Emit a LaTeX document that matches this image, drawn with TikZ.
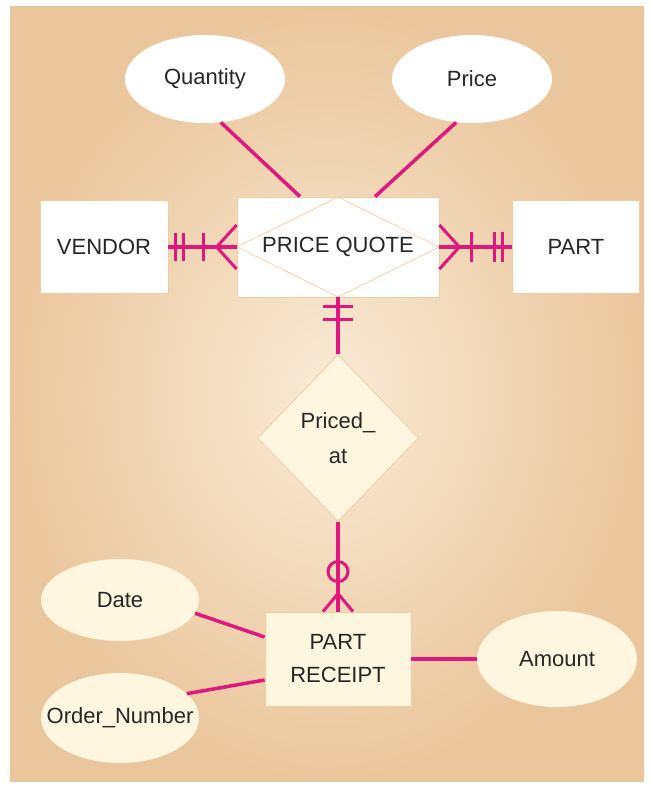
\documentclass[tikz,border=0pt]{standalone}
\usepackage{fontspec}
\setmainfont{Liberation Sans}
\usepackage{tikz}
\usetikzlibrary{positioning, shapes.geometric}
\definecolor{erpink}{HTML}{E0177F}
\definecolor{bginner}{HTML}{FAEBD6}
\definecolor{bgouter}{HTML}{EAC69C}
\definecolor{boxedge}{HTML}{F0CDA0}
\definecolor{cream}{HTML}{FFF6E0}
\definecolor{textgray}{HTML}{262626}

\begin{document}
\begin{tikzpicture}[x=1pt, y=-1pt,
    font=\fontsize{22}{26}\selectfont, text=textgray,
    entity/.style={draw=boxedge, line width=0.8pt, fill=white, inner sep=0pt},
    attr/.style={ellipse, fill=cream, inner sep=0pt, minimum width=160pt, minimum height=88pt},
    rel/.style={draw=erpink, line width=3.5pt},
    tick/.style={draw=erpink, line width=3pt}]
    \useasboundingbox (0,0) rectangle (650,789);
    \fill[inner color=bginner, outer color=bgouter] (10,7) rectangle (644,781);

    % entities
    \node[entity, minimum width=128pt, minimum height=93pt] (vendor) at (104,247) {VENDOR};
    \node[entity, minimum width=202pt, minimum height=100pt,
          path picture={\draw[boxedge, line width=0.7pt]
            (path picture bounding box.west) -- (path picture bounding box.north)
            -- (path picture bounding box.east) -- (path picture bounding box.south) -- cycle;}]
          (quote) at (338,247) {PRICE QUOTE};
    \node[entity, minimum width=127pt, minimum height=93pt] (part) at (576,247) {PART};
    \node[entity, fill=cream, minimum width=146pt, minimum height=94pt, align=center]
          (receipt) at (338,659) {PART\\[7pt]RECEIPT};
    \node[diamond, draw=boxedge, line width=0.8pt, fill=cream, inner sep=0pt,
          minimum width=161pt, minimum height=167pt, align=center]
          (priced) at (338,438) {Priced\_\\[9pt]at};

    % attributes
    \node[attr, fill=white] (qty) at (205,79) {Quantity};
    \node[attr, fill=white] (price) at (472,79) {Price};
    \node[attr, minimum width=158pt, minimum height=82pt] (date) at (120,600) {Date};
    \node[attr, minimum width=158pt, minimum height=90pt] (ordno) at (120,718)
          {\makebox[0pt]{Order\_Number}};
    \node[attr, minimum height=96pt] (amount) at (557,659) {Amount};

    % attribute links
    \draw[rel] (qty.-70) -- ([xshift=-38pt]quote.north);
    \draw[rel] (price.-110) -- ([xshift=37pt]quote.north);
    \draw[rel] (date.-10) -- ([yshift=22pt]receipt.west);
    \draw[rel] (ordno.20) -- ([yshift=-21pt]receipt.west);
    \draw[rel] (receipt) -- (amount);

    % vendor -- price quote
    \draw[rel] (vendor.east) -- (quote.west);
    \draw[tick] ([xshift=7pt]vendor.east) ++(0,-14) -- ++(0,28)
                ([xshift=15pt]vendor.east) ++(0,-14) -- ++(0,28)
                ([xshift=35pt]vendor.east) ++(0,-14) -- ++(0,28);
    \draw[tick] ([xshift=-20pt]quote.west) -- ++(20,-22)
                ([xshift=-20pt]quote.west) -- ++(20,22);

    % part -- price quote
    \draw[rel] (quote.east) -- (part.west);
    \draw[tick] ([xshift=20pt]quote.east) -- ++(-20,-22)
                ([xshift=20pt]quote.east) -- ++(-20,22);
    \draw[tick] ([xshift=32pt]quote.east) ++(0,-15) -- ++(0,30)
                ([xshift=-18pt]part.west) ++(0,-15) -- ++(0,30)
                ([xshift=-10pt]part.west) ++(0,-15) -- ++(0,30);

    % price quote -- priced_at -- part receipt
    \draw[rel] (quote.south) -- (priced.north);
    \draw[tick] ([yshift=-9pt]quote.south) ++(-15,0) -- ++(30,0)
                ([yshift=-22pt]quote.south) ++(-15,0) -- ++(30,0);
    \draw[rel] (priced.south) -- (receipt.north);
    \draw[tick] ([yshift=40pt]receipt.north) circle[radius=10pt];
    \draw[tick] ([yshift=18pt]receipt.north) -- ++(-15,18)
                ([yshift=18pt]receipt.north) -- ++(15,18);
\end{tikzpicture}
\end{document}
